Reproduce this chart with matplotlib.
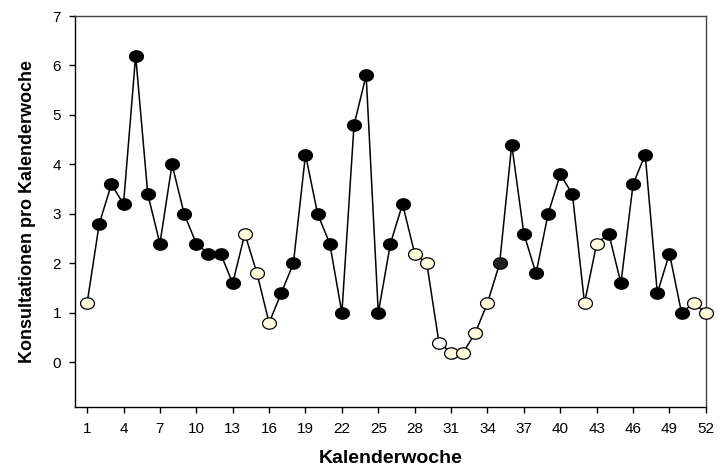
import numpy as np
import matplotlib
matplotlib.use("Agg")
import matplotlib.pyplot as plt
from matplotlib.path import Path

# Konsultationen pro Kalenderwoche
weeks = list(range(1, 53))
values = [1.2, 2.8, 3.6, 3.2, 6.2, 3.4, 2.4, 4.0, 3.0, 2.4,
          2.2, 2.2, 1.6, 2.6, 1.8, 0.8, 1.4, 2.0, 4.2, 3.0,
          2.4, 1.0, 4.8, 5.8, 1.0, 2.4, 3.2, 2.2, 2.0, 0.4,
          0.2, 0.2, 0.6, 1.2, 2.0, 4.4, 2.6, 1.8, 3.0, 3.8,
          3.4, 1.2, 2.4, 2.6, 1.6, 3.6, 4.2, 1.4, 2.2, 1.0,
          1.2, 1.0]
# point category: d = dark, l = light, w = white, g = dark grey
kinds = ["l", "d", "d", "d", "d", "d", "d", "d", "d", "d",
         "d", "d", "d", "l", "l", "l", "d", "d", "d", "d",
         "d", "d", "d", "d", "d", "d", "d", "l", "l", "w",
         "l", "l", "l", "l", "g", "d", "d", "d", "d", "d",
         "d", "l", "l", "d", "d", "d", "d", "d", "d", "d",
         "l", "l"]
xticks = list(range(1, 53, 3))
yticks = list(range(0, 8))

colors = {"d": "#000000", "l": "#FFFFE0", "w": "#FFFFFF", "g": "#222222"}

plt.rcParams["font.family"] = ["Liberation Sans", "DejaVu Sans"]

# elliptical marker (wider than tall)
t = np.linspace(0, 2 * np.pi, 60)
ellipse = Path(np.column_stack([np.cos(t), 0.82 * np.sin(t)]), closed=True)

fig = plt.figure(figsize=(7.21, 4.71), dpi=100)
ax = fig.add_axes([0.104, 0.136, 0.875, 0.830])

ax.plot(weeks, values, "-", color="black", linewidth=1.1, zorder=3,
        clip_on=False)
for kind in colors:
    xs = [w for w, k in zip(weeks, kinds) if k == kind]
    ys = [v for v, k in zip(values, kinds) if k == kind]
    ax.plot(xs, ys, linestyle="none", marker=ellipse, markersize=10,
            markerfacecolor=colors[kind], markeredgecolor="black",
            markeredgewidth=0.9, zorder=4, clip_on=False)

ax.set_xlim(0, 52)
ax.set_ylim(-0.9, 7)
ax.set_xticks(xticks)
ax.set_yticks(yticks)
ax.tick_params(axis="both", direction="out", length=4, width=1,
               labelsize=11, pad=6)
ax.tick_params(axis="x", pad=7)
for side in ["left", "bottom", "right", "top"]:
    ax.spines[side].set_linewidth(1.0)
ax.spines["top"].set_color("#444444")
ax.spines["right"].set_color("#444444")

ax.set_xlabel("Kalenderwoche", fontsize=14, fontweight="bold", labelpad=10)
ax.set_ylabel("Konsultationen pro Kalenderwoche", fontsize=13,
              fontweight="bold", labelpad=12)

fig.savefig("out.png", dpi=100)
